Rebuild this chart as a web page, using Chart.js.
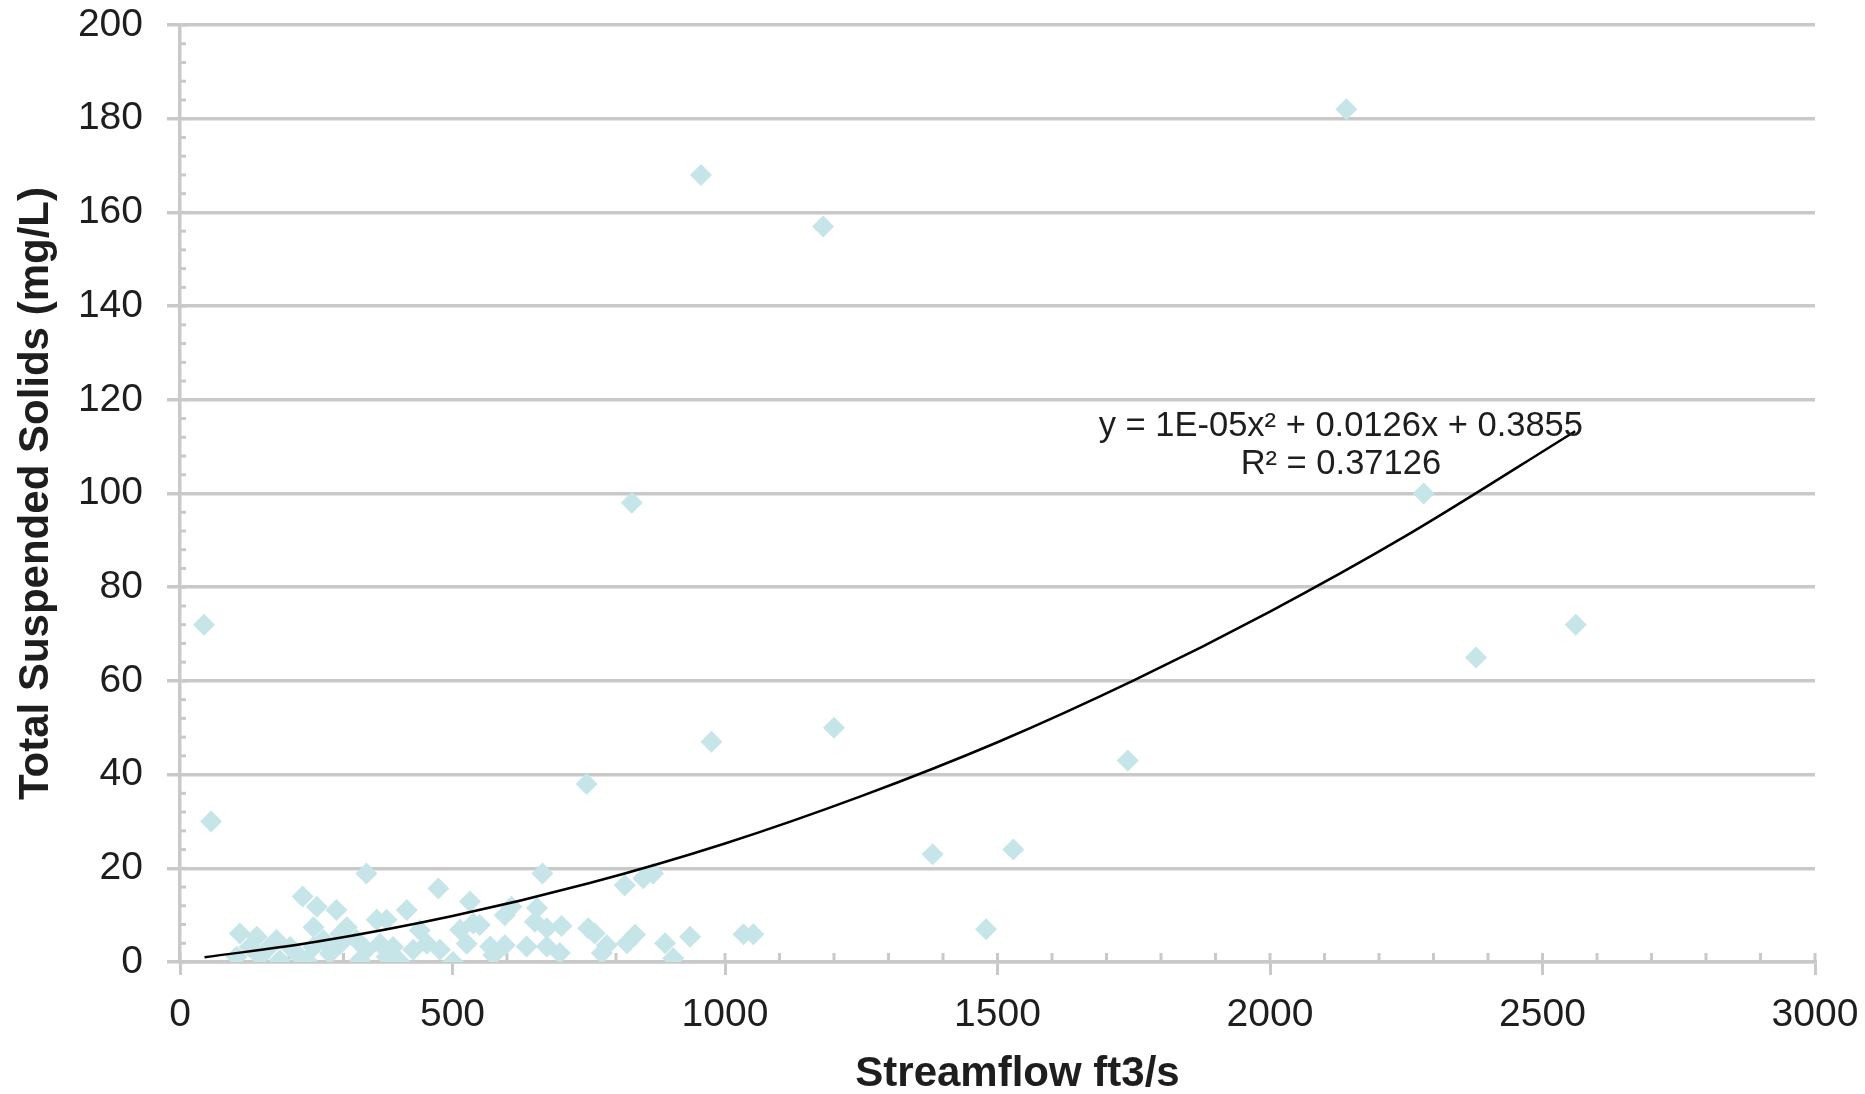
<!DOCTYPE html>
<html>
<head>
<meta charset="utf-8">
<script src="https://cdn.jsdelivr.net/npm/chart.js@4.4.0/dist/chart.umd.min.js"></script>
<style>
  html, body { margin: 0; padding: 0; background: #fff; }
  #wrap { width: 1865px; height: 1094px; }
</style>
</head>
<body>
<div id="wrap"><canvas id="tssChart" width="1865" height="1094"></canvas></div>
<script>
// streamflow (ft3/s) vs total suspended solids (mg/L)
const flowX = [44, 57, 956, 1180, 2140, 2282, 2378, 2561, 829, 975, 1200, 746, 1739, 1381, 1529, 1479,
  342, 474, 225, 251, 287, 416, 532, 245, 306, 361, 379, 110, 141, 177, 440, 514, 538, 104, 128, 159,
  202, 183, 214, 245, 263, 275, 294, 324, 342, 367, 391, 404, 428, 453, 477, 501, 526, 330, 232, 294, 147, 379,
  665, 816, 850, 868, 550, 608, 596, 655, 651, 673, 700, 749, 761, 835, 936, 1034, 1052, 569, 596, 575,
  636, 673, 697, 783, 774, 820, 890, 905];
const tssY = [72, 30, 168, 157, 182, 100, 65, 72, 98, 47, 50, 38, 43, 23, 24, 7,
  18.9, 15.7, 14.0, 11.8, 11.1, 11.1, 12.9, 7.4, 7.4, 9.0, 9.0, 6.1, 5.4, 4.7, 6.8, 6.9, 8.2, 1.1, 3.2, 2.6,
  3.2, 0.4, 1.8, 3.2, 4.7, 1.8, 3.9, 4.7, 2.6, 3.9, 3.2, 0, 2.6, 3.9, 2.6, 0, 3.9, 0.4, 0.4, 6.0, 1.1, 1.1,
  18.9, 16.4, 17.9, 18.9, 7.9, 11.8, 10.0, 11.5, 8.6, 7.2, 7.7, 7.2, 6.1, 5.8, 5.4, 5.9, 5.9, 3.3, 3.6, 1.5,
  3.3, 3.3, 1.9, 3.6, 1.9, 4.0, 4.0, 0.8];

// points along the trendline
const trendX = [45, 250, 500, 750, 1000, 1250, 1500, 1750, 2000, 2250, 2560];
const trendY = [1.0, 4.3, 9.8, 16.8, 25.3, 35.4, 46.9, 60.1, 74.8, 91.0, 113.3];

const eqLines = ['y = 1E-05x\u00B2 + 0.0126x + 0.3855', 'R\u00B2 = 0.37126'];
const eqAt = { x: 2130, y: [114.4, 106.1] };

const xTitle = 'Streamflow ft3/s';
const yTitle = 'Total Suspended Solids (mg/L)';

const FONT = '"Liberation Sans", Arial, sans-serif';
const GRID = '#c9c9c9';
const TEXT = '#1e1e1e';

// small inner ticks like the spreadsheet axis, the equation label and the x title
const axisExtras = {
  id: 'axisExtras',
  beforeDatasetsDraw(chart) {
    const { ctx, scales: { x, y } } = chart;
    ctx.save();
    ctx.strokeStyle = GRID;
    ctx.lineWidth = 3;
    for (let v = 0; v <= 3000; v += 100) {
      const px = x.getPixelForValue(v);
      ctx.beginPath();
      ctx.moveTo(px, y.bottom);
      ctx.lineTo(px, y.bottom - 9);
      ctx.stroke();
    }
    for (let v = 0; v <= 200; v += 4) {
      const py = y.getPixelForValue(v);
      ctx.beginPath();
      ctx.moveTo(x.left, py);
      ctx.lineTo(x.left + 6, py);
      ctx.stroke();
    }
    ctx.restore();
  },
  afterDatasetsDraw(chart) {
    const { ctx, scales: { x, y } } = chart;
    ctx.save();
    ctx.fillStyle = TEXT;
    ctx.font = '34.5px ' + FONT;
    ctx.textAlign = 'center';
    ctx.textBaseline = 'middle';
    eqLines.forEach((line, i) => {
      ctx.fillText(line, x.getPixelForValue(eqAt.x), y.getPixelForValue(eqAt.y[i]));
    });
    // x axis title, sits a little right of the plot centre in the original
    ctx.font = 'bold 42px ' + FONT;
    ctx.fillText(xTitle, (x.left + x.right) / 2 + 20, chart.height - 20);
    ctx.restore();
  }
};

const ctx = document.getElementById('tssChart').getContext('2d');
new Chart(ctx, {
  type: 'scatter',
  data: {
    datasets: [{
      label: 'Poly. trend',
      data: trendX.map((v, i) => ({ x: v, y: trendY[i] })),
      showLine: true,
      borderColor: '#000',
      borderWidth: 2.5,
      pointRadius: 0,
      cubicInterpolationMode: 'monotone',
      fill: false
    }, {
      label: 'TSS',
      data: flowX.map((v, i) => ({ x: v, y: tssY[i] })),
      pointStyle: 'rectRot',
      pointRadius: 11,
      pointBackgroundColor: '#c5e5e8',
      pointBorderWidth: 0,
      borderWidth: 0
    }]
  },
  options: {
    responsive: false,
    animation: false,
    devicePixelRatio: 1,
    layout: { padding: 0 },
    plugins: {
      legend: { display: false },
      tooltip: { enabled: false }
    },
    scales: {
      x: {
        type: 'linear',
        min: 0,
        max: 3000,
        afterFit: (axis) => {
          axis.height = 132;
          axis.paddingLeft = 0;
          axis.paddingRight = 50;
        },
        ticks: {
          stepSize: 500, color: TEXT, padding: 17, maxRotation: 0,
          font: { family: FONT, size: 39 },
          callback: (v) => String(v)
        },
        grid: { drawOnChartArea: false, drawTicks: true, tickLength: 13, color: GRID, lineWidth: 3 },
        border: { display: true, color: GRID, width: 3.5 }
      },
      y: {
        min: 0,
        max: 200,
        afterFit: (axis) => {
          axis.width = 180;
          axis.paddingTop = 25;
          axis.paddingBottom = 0;
        },
        ticks: {
          stepSize: 20, color: TEXT, padding: 24,
          font: { family: FONT, size: 39 },
          callback: (v) => String(v)
        },
        grid: { color: GRID, lineWidth: 3.5, tickLength: 13 },
        border: { display: true, color: GRID, width: 3.5 },
        title: {
          display: true, text: yTitle, color: TEXT,
          font: { family: FONT, size: 42, weight: 'bold', lineHeight: 1.2 },
          padding: { top: 11, bottom: 0 }
        }
      }
    }
  },
  plugins: [axisExtras]
});
</script>
</body>
</html>
